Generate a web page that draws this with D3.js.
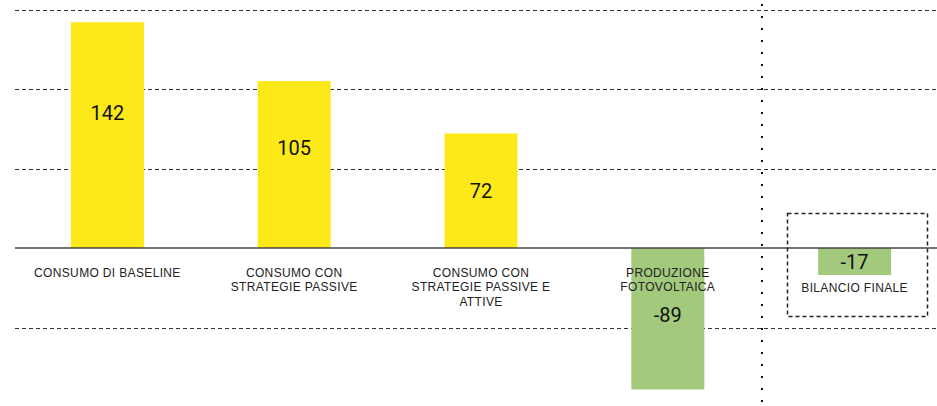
<!DOCTYPE html>
<html><head><meta charset="utf-8">
<script src="https://cdn.jsdelivr.net/npm/d3@7"></script>
<style>body{margin:0;background:#fff}svg{display:block}</style>
</head><body>
<svg id="c" width="937" height="406"></svg>
<script>
const categories = [
  ["CONSUMO DI BASELINE"],
  ["CONSUMO CON", "STRATEGIE PASSIVE"],
  ["CONSUMO CON", "STRATEGIE PASSIVE E", "ATTIVE"],
  ["PRODUZIONE", "FOTOVOLTAICA"],
  ["BILANCIO FINALE"]
];
const values = [142, 105, 72, -89, -17];
const valueLabels = ["142", "105", "72", "-89", "-17"];
const gridTicks = [150, 100, 50, -50];

const W = 937, H = 406;
const svg = d3.select("#c");
const yellow = "#FDE91A", green = "#A3C97D";

const x = d3.scalePoint().domain(d3.range(values.length)).range([14, 948]).padding(0.5);
const y = d3.scaleLinear().domain([-50, 150]).range([327.5, 9.5]);
const bw = 73;
const cx = i => x(i);

// gridlines
svg.append("g").selectAll("line").data(gridTicks).join("line")
  .attr("x1", 15).attr("x2", W)
  .attr("y1", d => Math.round(y(d)) + 0.5).attr("y2", d => Math.round(y(d)) + 0.5)
  .attr("stroke", "#333").attr("stroke-width", 1).attr("stroke-dasharray", "4,3");

// bars
svg.append("g").selectAll("rect").data(values).join("rect")
  .attr("x", (d, i) => cx(i) - bw / 2)
  .attr("width", bw)
  .attr("y", d => Math.min(y(d), y(0)))
  .attr("height", d => Math.abs(y(d) - y(0)))
  .attr("fill", d => d >= 0 ? yellow : green);

// baseline
svg.append("line").attr("x1", 15).attr("x2", W)
  .attr("y1", y(0)).attr("y2", y(0))
  .attr("stroke", "#444").attr("stroke-width", 1.3);

// vertical dotted separator
svg.append("line").attr("x1", 762).attr("x2", 762).attr("y1", 4).attr("y2", H)
  .attr("stroke", "#111").attr("stroke-width", 2).attr("stroke-dasharray", "2,10");

// dashed box around final balance
svg.append("rect").attr("x", 787.5).attr("y", 213.5).attr("width", 140).attr("height", 103)
  .attr("fill", "none").attr("stroke", "#222").attr("stroke-width", 1.5).attr("stroke-dasharray", "4,3");

// value labels
const labelFrac = [0.6, 0.6, 0.5, 0.475, 0.5];
svg.append("g").selectAll("text").data(values).join("text")
  .attr("x", (d, i) => cx(i))
  .attr("y", (d, i) => y(0) + (y(d) - y(0)) * labelFrac[i])
  .attr("dy", "0.36em")
  .attr("text-anchor", "middle")
  .attr("font-family", "Roboto, 'Liberation Sans', sans-serif")
  .attr("font-size", 20)
  .attr("fill", "#111")
  .text((d, i) => valueLabels[i]);

// category labels
const catTop = [277, 277, 277, 277, 292];
const g = svg.append("g").attr("font-family", "'Liberation Sans', Arial, sans-serif")
  .attr("font-size", 12).attr("letter-spacing", 0.35).attr("fill", "#222").attr("text-anchor", "middle");
categories.forEach((lines, i) => {
  const t = g.append("text").attr("x", cx(i)).attr("y", catTop[i]);
  lines.forEach((l, j) => t.append("tspan").attr("x", cx(i)).attr("dy", j ? 14.3 : 0).text(l));
});
</script>
</body></html>
